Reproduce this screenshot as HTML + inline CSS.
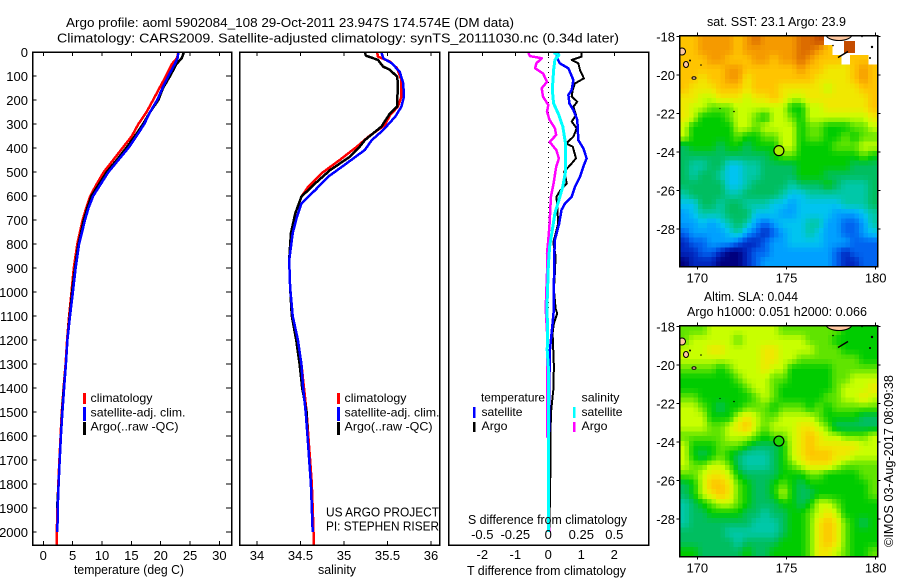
<!DOCTYPE html>
<html lang="en">
<head>
<meta charset="utf-8">
<title>Argo profile chart</title>
<style>
html,body{margin:0;padding:0;background:#fff;}
svg{display:block;}
text{font-family:"Liberation Sans",sans-serif;font-size:13px;fill:#000;}
.lg{font-size:12px;}
</style>
</head>
<body>
<svg id="chart" xmlns="http://www.w3.org/2000/svg" width="900" height="580" viewBox="0 0 900 580">
  <defs>
    <clipPath id="sst-clip"><rect x="680" y="35.5" width="197" height="231"/></clipPath>
    <clipPath id="sla-clip"><rect x="680" y="325.5" width="197" height="231"/></clipPath>
  </defs>
  <rect x="0" y="0" width="900" height="580" fill="#fff"/>
  <text x="66" y="27" textLength="448" lengthAdjust="spacingAndGlyphs">Argo profile: aoml 5902084_108 29-Oct-2011 23.947S 174.574E (DM data)</text>
  <text x="57" y="42.5" textLength="562" lengthAdjust="spacingAndGlyphs">Climatology: CARS2009. Satellite-adjusted climatology: synTS_20111030.nc (0.34d later)</text>

  <g id="heat-layer" shape-rendering="crispEdges"></g>
  <g id="line-layer" shape-rendering="crispEdges"></g>
  <g id="axis-layer"></g>

  <text x="74" y="574" textLength="110" lengthAdjust="spacingAndGlyphs">temperature (deg C)</text>
  <text x="318" y="574" textLength="38" lengthAdjust="spacingAndGlyphs">salinity</text>
  <text x="467" y="575" textLength="159" lengthAdjust="spacingAndGlyphs">T difference from climatology</text>
  <text x="468" y="524" textLength="159" lengthAdjust="spacingAndGlyphs">S difference from climatology</text>

  <g>
    <rect x="83" y="393" width="3" height="11" fill="#f00"/>
    <rect x="83" y="407" width="3" height="14" fill="#00f"/>
    <rect x="83" y="422" width="3" height="13" fill="#000"/>
    <text class="lg" x="90.5" y="402" textLength="62" lengthAdjust="spacingAndGlyphs">climatology</text>
    <text class="lg" x="90.5" y="416.5" textLength="95" lengthAdjust="spacingAndGlyphs">satellite-adj. clim.</text>
    <text class="lg" x="90.5" y="430.5" textLength="88" lengthAdjust="spacingAndGlyphs">Argo(..raw -QC)</text>
  </g>
  <g>
    <rect x="337" y="393" width="3" height="11" fill="#f00"/>
    <rect x="337" y="407" width="3" height="14" fill="#00f"/>
    <rect x="337" y="422" width="3" height="13" fill="#000"/>
    <text class="lg" x="344.5" y="402" textLength="62" lengthAdjust="spacingAndGlyphs">climatology</text>
    <text class="lg" x="344.5" y="416.5" textLength="95" lengthAdjust="spacingAndGlyphs">satellite-adj. clim.</text>
    <text class="lg" x="344.5" y="430.5" textLength="88" lengthAdjust="spacingAndGlyphs">Argo(..raw -QC)</text>
  </g>
  <text x="326" y="516.5" textLength="113" lengthAdjust="spacingAndGlyphs">US ARGO PROJECT</text>
  <text x="326" y="530.5" textLength="113" lengthAdjust="spacingAndGlyphs">PI: STEPHEN RISER</text>

  <g>
    <text class="lg" x="481" y="401.5" textLength="64" lengthAdjust="spacingAndGlyphs">temperature</text>
    <rect x="473" y="407" width="2.5" height="11" fill="#00f"/>
    <text class="lg" x="481.5" y="416" textLength="41" lengthAdjust="spacingAndGlyphs">satellite</text>
    <rect x="473" y="422" width="2.5" height="10" fill="#000"/>
    <text class="lg" x="481.5" y="430" textLength="26" lengthAdjust="spacingAndGlyphs">Argo</text>
    <text class="lg" x="581.5" y="401.5" textLength="38" lengthAdjust="spacingAndGlyphs">salinity</text>
    <rect x="573" y="407" width="2.5" height="11" fill="#0ff"/>
    <text class="lg" x="581.5" y="416" textLength="41" lengthAdjust="spacingAndGlyphs">satellite</text>
    <rect x="573" y="422" width="2.5" height="10" fill="#f0f"/>
    <text class="lg" x="581.5" y="430" textLength="26" lengthAdjust="spacingAndGlyphs">Argo</text>
  </g>

  <text x="707" y="26" textLength="139" lengthAdjust="spacingAndGlyphs">sat. SST: 23.1  Argo: 23.9</text>
  <text x="704" y="301" textLength="94" lengthAdjust="spacingAndGlyphs">Altim. SLA: 0.044</text>
  <text x="687" y="316" textLength="180" lengthAdjust="spacingAndGlyphs">Argo h1000: 0.051 h2000: 0.066</text>
  <text transform="translate(893,547) rotate(-90)" textLength="172" lengthAdjust="spacingAndGlyphs">©IMOS 03-Aug-2017 08:09:38</text>
</svg>

<script>
/* ---------- profile data ---------- */
const tempDepths = [0,25,50,100,150,200,250,300,350,400,450,500,550,600,650,700,800,900,1000,1100,1200,1300,1400,1500,1600,1700,1800,1900,2000,2054];
const climTemp = [23.0,22.8,21.9,20.9,19.8,18.7,17.6,16.2,15.1,13.5,11.9,10.3,9.1,8.0,7.3,6.7,5.8,5.2,4.8,4.4,4.05,3.8,3.45,3.15,2.95,2.75,2.55,2.4,2.3,2.25];
const argoTemp = [23.97,23.6,22.7,21.6,20.4,19.6,18.2,17.0,15.6,14.1,12.5,10.8,9.5,8.2,7.5,6.9,6.0,5.4,4.9,4.5,4.1,3.85,3.5,3.2,3.0,2.8,2.6,2.35];
const satTemp = [23.0,22.9,22.4,21.3,20.3,19.4,18.2,17.2,15.9,14.5,12.8,11.1,9.8,8.5,7.7,7.1,6.1,5.5,5.05,4.55,4.1,3.85,3.55,3.25,3.0,2.8,2.6,2.45,2.4];

const climSalDepths = [0,19,40,68,117,186,228,262,304,353,394,450,506,561,603,672,755,867,978,1100,1200,1300,1400,1500,1600,1700,1800,1900,2000,2054];
const climSal = [35.38,35.39,35.53,35.61,35.66,35.66,35.62,35.53,35.47,35.28,35.15,34.95,34.74,34.59,34.51,34.44,34.40,34.37,34.38,34.41,34.46,34.51,34.54,34.57,34.59,34.61,34.63,34.64,34.65,34.65];
const argoSalDepths = [0,15,33,61,75,103,130,228,255,311,367,394,436,492,547,603,672,755,867,978,1100,1200,1300,1400,1500,1600,1700,1800,1900,2000];
const argoSal = [35.24,35.25,35.39,35.45,35.53,35.61,35.62,35.61,35.53,35.43,35.24,35.18,35.07,34.84,34.67,34.51,34.44,34.39,34.37,34.38,34.40,34.45,34.49,34.52,34.57,34.58,34.60,34.62,34.63,34.64];
const satSalDepths = [0,26,47,82,130,186,228,269,325,367,408,464,519,575,631,686,755,867,978,1100,1200,1300,1400,1500,1600,1700,1800,1900,2000];
const satSal = [35.43,35.45,35.55,35.64,35.68,35.69,35.66,35.59,35.45,35.32,35.24,35.03,34.82,34.67,34.51,34.46,34.41,34.37,34.38,34.41,34.47,34.51,34.53,34.56,34.58,34.60,34.62,34.63,34.64];

const argoTDiffDepths = [3,19,33,47,75,110,131,158,186,207,228,263,290,318,353,381,394,443,464,499,547,575,603,644,714,794,850,919,989,1069,1089,1130,1172,1311,1408,1505,1589,1686,1867,2000];
const argoTDiff = [1.01,1.01,0.71,0.91,0.96,1.08,0.81,0.74,0.71,0.88,0.76,0.84,0.71,0.86,0.76,0.54,0.74,0.84,0.71,0.48,0.56,0.37,0.25,0.27,0.30,0.15,0.22,0.20,0.17,0.22,0.27,0.17,0.13,0.17,0.15,0.08,0.07,0.07,0.05,0.03];
const satTDiffDepths = [3,19,47,68,117,158,179,214,242,283,367,401,443,478,519,561,603,631,658,714,783,853,992,1069,1130,1242,1380,1589,2000];
const satTDiff = [0.30,0.25,0.35,0.61,0.76,0.71,0.61,0.64,0.76,0.88,0.91,1.06,1.16,1.06,0.96,0.81,0.71,0.51,0.40,0.33,0.20,0.18,0.17,0.17,0.13,0.05,0.03,0.02,0.01];
const satSDiffDepths = [3,13,33,75,158,214,263,311,381,436,499,561,617,672,742,811,894,1061,1172,1242,1311,2000];
const satSDiff = [0.04,0.08,0.05,0.04,0.03,0.04,0.08,0.11,0.13,0.13,0.13,0.11,0.08,0.05,0.03,0.01,0,-0.01,-0.005,-0.008,0,0];
const argoSDiffDepths = [3,17,26,47,68,89,124,151,186,221,249,283,318,346,374,408,443,478,547,603,714,783,839,922,1069,1165,1600,1610,1960,2000];
const argoSDiff = [-0.15,-0.14,-0.05,-0.09,-0.10,-0.04,-0.01,-0.05,-0.04,0,-0.01,0.01,0.05,0.06,0.01,0.06,0.08,0.06,0.04,0.02,0.01,0,-0.01,-0.01,-0.02,-0.01,-0.01,0,0,0.01];

/* ---------- axis tick labels ---------- */
const depthTicks = [0,100,200,300,400,500,600,700,800,900,1000,1100,1200,1300,1400,1500,1600,1700,1800,1900,2000];
const tempTicks = [0,5,10,15,20,25,30];
const salTicks = [34,34.5,35,35.5,36];
const tDiffTicks = [-2,-1,0,1,2];
const sDiffTicks = [-0.5,-0.25,0,0.25,0.5];
const lonTicks = [170,175,180];
const latTicks = [-18,-20,-22,-24,-26,-28];

/* ---------- map cells: colour-scale level per cell, -1 = no data ---------- */
const sstLevels = [
[11,11,12,12,12,12,11,12,13,12,12,12,12,13,13,14,-1,-1,-1,-1,-1,-1],
[11,11,12,12,12,12,11,12,12,12,12,12,12,13,13,12,11,-1,-1,-1,-1,-1],
[11,11,11,12,12,11,11,11,12,12,11,12,12,13,12,11,11,11,-1,11,11,-1],
[11,11,11,11,11,12,12,11,11,11,11,11,11,12,11,11,10,10,10,11,12,11],
[11,11,10,11,11,12,12,10,11,11,11,11,11,11,11,10,10,10,10,11,12,11],
[11,10,10,10,11,11,11,10,11,11,11,10,10,10,10,10,9,10,10,10,11,11],
[10,10,9,9,10,10,10,9,10,10,11,10,9,9,10,10,10,10,10,10,10,11],
[10,9,9,8,8,8,9,9,9,9,9,9,7,7,9,9,10,10,10,10,10,11],
[10,9,7,7,7,8,9,9,8,7,9,9,8,7,9,9,9,9,9,9,9,10],
[9,7,7,7,7,7,9,9,8,9,9,9,9,7,8,8,7,7,7,8,8,9],
[9,7,7,7,7,7,8,7,7,8,8,9,9,7,8,8,7,7,8,7,8,8],
[6,7,7,7,6,7,7,6,7,7,7,9,9,7,7,7,7,8,8,8,9,9],
[6,6,6,6,6,6,6,6,6,6,7,8,8,7,7,7,7,7,7,7,8,7],
[6,5,5,6,6,4,4,5,5,6,6,6,6,7,7,7,7,7,7,6,6,6],
[6,5,6,6,5,4,4,5,5,6,6,6,6,7,7,7,6,6,6,6,6,6],
[6,6,6,6,6,4,4,5,6,6,6,6,5,6,6,6,7,6,5,5,5,6],
[5,6,6,6,6,5,5,6,6,6,6,5,4,4,5,5,5,5,5,5,5,6],
[4,4,6,6,5,6,6,5,5,5,4,4,3,4,4,4,4,4,5,5,5,6],
[3,4,5,5,5,6,6,6,4,4,4,3,3,4,4,4,4,3,3,3,4,5],
[3,3,4,3,4,5,6,5,3,2,3,4,4,4,5,5,3,3,2,2,3,5],
[2,3,3,3,3,4,5,3,2,1,2,3,4,4,5,4,3,3,2,2,3,4],
[1,2,2,3,3,3,2,1,1,2,3,3,4,4,4,4,3,3,3,2,2,2],
[1,1,2,2,1,0,0,1,2,2,3,3,3,3,3,3,3,2,1,2,2,2],
[0,1,1,1,0,0,0,1,2,3,3,3,3,3,3,3,3,2,1,1,2,2]
];
const slaLevels = [
[8,8,8,9,9,9,9,9,9,9,9,8,8,8,8,8,8,8,7,7,7,7],
[8,9,9,9,9,9,8,9,9,9,9,9,9,9,8,8,8,7,7,7,7,7],
[9,9,9,10,10,9,9,9,9,10,10,9,9,9,9,8,8,8,7,7,7,7],
[9,9,9,9,9,9,9,9,9,10,10,9,9,8,8,8,8,8,8,8,7,7],
[8,8,8,8,7,8,9,9,9,10,9,9,7,7,7,7,7,8,8,8,8,8],
[7,7,7,7,7,7,8,9,9,9,8,8,7,7,7,7,7,8,8,9,9,9],
[7,7,7,7,7,7,7,8,9,9,8,7,7,7,7,7,7,8,9,9,9,10],
[8,8,7,7,7,7,7,7,8,9,8,7,7,7,7,7,8,8,9,9,10,9],
[9,9,8,7,6,7,7,8,8,8,7,8,8,8,7,8,7,8,8,8,8,8],
[9,9,9,7,7,7,9,10,9,8,8,9,9,9,9,8,7,7,7,7,6,6],
[9,9,9,8,8,9,10,11,9,8,9,9,9,10,10,9,8,6,6,6,6,6],
[8,8,8,8,8,9,9,9,8,7,8,8,9,10,11,10,9,9,8,8,8,9],
[9,7,7,7,8,8,8,7,6,6,6,7,9,10,11,10,10,10,10,10,9,9],
[9,7,6,7,8,7,6,5,5,5,6,7,9,10,11,11,11,10,10,9,9,9],
[9,8,8,9,9,8,6,5,5,5,6,7,8,9,10,10,10,9,8,8,8,8],
[8,8,9,10,10,9,7,6,6,6,6,7,7,7,8,8,7,7,7,7,8,8],
[6,7,9,11,11,10,8,7,6,6,7,8,7,6,7,7,7,7,7,7,7,8],
[6,7,9,10,11,10,8,7,6,6,7,9,7,6,6,7,7,7,7,7,7,8],
[5,6,7,8,9,9,8,7,6,6,6,7,7,6,7,9,9,8,7,7,7,7],
[5,6,6,7,7,7,7,6,6,5,6,6,7,7,8,9,10,9,7,7,7,7],
[5,6,6,6,6,6,6,6,5,5,5,6,7,7,8,10,11,10,8,7,6,7],
[6,6,6,6,6,5,5,5,5,5,5,6,7,7,8,10,11,10,8,7,7,7],
[6,6,6,6,6,6,5,6,6,6,6,7,7,7,8,10,11,10,8,7,7,7],
[7,7,6,6,6,6,6,7,6,6,7,7,7,7,8,10,10,9,8,7,7,8]
];
const levelColors = [[0,0,127],[0,40,192],[0,100,240],[0,160,255],[0,196,240],[0,200,168],[0,190,96],[0,204,0],[96,228,0],[200,255,0],[240,232,0],[255,196,0],[245,154,0],[220,108,0],[196,76,0]];
const argoLon = 174.574;
const argoLat = -23.947;

/* ---------- helpers ---------- */
const SVGNS = 'http://www.w3.org/2000/svg';
const lineLayer = document.getElementById('line-layer');
const axisLayer = document.getElementById('axis-layer');
const heatLayer = document.getElementById('heat-layer');

function depthY(d){ return 52 + d * 0.24; }
function tempX(v){ return 43.3 + 5.87 * v; }
function salX(v){ return 257 + 87 * (v - 34); }
function tDiffX(v){ return 548.3 + 33 * v; }
function sDiffX(v){ return 548.3 + 132 * v; }
function lonX(v){ return 697.3 + 17.84 * (v - 170); }
function latY(v, top){ return top + (-18 - v) * 19.28; }

function addEl(parent, tag, name, attrs){
  const el = document.createElementNS(SVGNS, tag);
  
  
  for (const k in attrs) el.setAttribute(k, attrs[k]);
  parent.appendChild(el);
  return el;
}
function drawProfile(name, depths, values, xFn, color, width){
  const n = Math.min(depths.length, values.length);
  const pts = [];
  for (let i = 0; i < n; i++) pts.push(xFn(values[i]).toFixed(1) + ',' + depthY(depths[i]).toFixed(1));
  addEl(lineLayer, 'polyline', name, {points: pts.join(' '), fill: 'none', stroke: color, 'stroke-width': width, 'stroke-linejoin': 'round'});
}
function tickLine(name, x1, y1, x2, y2){
  addEl(axisLayer, 'line', name, {x1: x1, y1: y1, x2: x2, y2: y2, stroke: '#000', 'stroke-width': 1, 'shape-rendering': 'crispEdges'});
}
function label(name, x, y, txt, anchor){
  const t = addEl(axisLayer, 'text', name, {x: x, y: y, 'text-anchor': anchor || 'middle'});
  t.textContent = txt;
}
function frame(name, x, y, w, h){
  addEl(axisLayer, 'rect', name, {x: x, y: y, width: w, height: h, fill: 'none', stroke: '#000', 'stroke-width': 1.5, 'shape-rendering': 'crispEdges'});
}

/* ---------- profile lines ---------- */
drawProfile('temperature-climatology-line', tempDepths, climTemp, tempX, '#f00', 2.5);
drawProfile('temperature-argo-line', tempDepths, argoTemp, tempX, '#000', 2.5);
drawProfile('temperature-satellite-line', tempDepths, satTemp, tempX, '#00f', 2.5);

drawProfile('salinity-climatology-line', climSalDepths, climSal, salX, '#f00', 2.5);
drawProfile('salinity-argo-line', argoSalDepths, argoSal, salX, '#000', 2.5);
drawProfile('salinity-satellite-line', satSalDepths, satSal, salX, '#00f', 2.5);

addEl(lineLayer, 'line', 'zero-difference-dotted-line', {x1: 548.3, y1: 52, x2: 548.3, y2: 310, stroke: '#000', 'stroke-width': 1, 'stroke-dasharray': '1,4'});
drawProfile('t-difference-argo-line', argoTDiffDepths, argoTDiff, tDiffX, '#000', 2);
drawProfile('t-difference-satellite-line', satTDiffDepths, satTDiff, tDiffX, '#00f', 2.5);
drawProfile('s-difference-argo-line', argoSDiffDepths, argoSDiff, sDiffX, '#f0f', 2.5);
drawProfile('s-difference-satellite-line', satSDiffDepths, satSDiff, sDiffX, '#0ff', 3);

/* ---------- profile axes ---------- */
frame('temperature-panel-frame', 32.5, 52, 199, 493);
frame('salinity-panel-frame', 239.5, 52, 200, 493);
frame('difference-panel-frame', 448.5, 52, 200, 493);

depthTicks.forEach(function(d){
  tickLine('depth-tick-left', 32.5, depthY(d), 36.5, depthY(d));
  tickLine('depth-tick-right', 226, depthY(d), 231.5, depthY(d));
  label('depth-tick-label', 28, depthY(d) + 5, String(d), 'end');
});
tempTicks.forEach(function(v){
  tickLine('temperature-tick-top', tempX(v), 52, tempX(v), 56);
  tickLine('temperature-tick-bottom', tempX(v), 545, tempX(v), 541);
  label('temperature-tick-label', tempX(v), 560, String(v));
});
salTicks.forEach(function(v){
  tickLine('salinity-tick-top', salX(v), 52, salX(v), 56);
  tickLine('salinity-tick-bottom', salX(v), 545, salX(v), 541);
  label('salinity-tick-label', salX(v), 560, String(v));
});
tDiffTicks.forEach(function(v){
  tickLine('t-difference-tick-top', tDiffX(v), 52, tDiffX(v), 56);
  label('t-difference-tick-label', tDiffX(v), 559, String(v));
});
sDiffTicks.forEach(function(v){
  label('s-difference-tick-label', sDiffX(v), 539, String(v));
});

/* ---------- maps ---------- */
/* each data cell is shaded with sub x sub blocks, blended toward neighbouring cells */
function sampleLevel(grid, fr, fc){
  const r0 = Math.floor(fr), c0 = Math.floor(fc);
  const tr = fr - r0, tc = fc - c0;
  let sum = 0, wt = 0;
  [[r0, c0, (1 - tr) * (1 - tc)], [r0, c0 + 1, (1 - tr) * tc], [r0 + 1, c0, tr * (1 - tc)], [r0 + 1, c0 + 1, tr * tc]].forEach(function(p){
    const row = grid[Math.max(0, Math.min(grid.length - 1, p[0]))];
    const v = row[Math.max(0, Math.min(row.length - 1, p[1]))];
    if (v >= 0) { sum += v * p[2]; wt += p[2]; }
  });
  return wt > 0 ? sum / wt : -1;
}
function levelColor(v){
  const lo = Math.max(0, Math.min(levelColors.length - 1, Math.floor(v)));
  const hi = Math.min(levelColors.length - 1, lo + 1);
  const t = Math.max(0, Math.min(1, v - lo));
  const a = levelColors[lo], b = levelColors[hi];
  return 'rgb(' + Math.round(a[0] + (b[0] - a[0]) * t) + ',' + Math.round(a[1] + (b[1] - a[1]) * t) + ',' + Math.round(a[2] + (b[2] - a[2]) * t) + ')';
}
function drawMap(name, grid, top, clipId){
  const left = 680, cw = 197 / 22, ch = 231 / 24, sub = 2;
  grid.forEach(function(row, r){
    row.forEach(function(level, c){
      if (level < 0) return;
      for (let i = 0; i < sub; i++) {
        for (let j = 0; j < sub; j++) {
          const fr = r + (i + 0.5) / sub - 0.5, fc = c + (j + 0.5) / sub - 0.5;
          const v = sampleLevel(grid, fr, fc);
          addEl(heatLayer, 'rect', name + '-cell', {
            x: (left + (c + j / sub) * cw).toFixed(2), y: (top + (r + i / sub) * ch).toFixed(2),
            width: (cw / sub + 0.5).toFixed(2), height: (ch / sub + 0.5).toFixed(2),
            fill: levelColor(v)
          });
        }
      }
    });
  });
  /* coastlines and islands */
  const g = addEl(axisLayer, 'g', name + '-land', {'clip-path': 'url(#' + clipId + ')'});
  addEl(g, 'ellipse', 'island', {cx: 839, cy: top - 1, rx: 13, ry: 6, fill: '#ffc8a0', stroke: '#000', 'stroke-width': 1});
  addEl(g, 'ellipse', 'island', {cx: 682, cy: top + 16, rx: 3.5, ry: 3.5, fill: '#ffc8a0', stroke: '#000', 'stroke-width': 1});
  addEl(g, 'ellipse', 'island', {cx: 686, cy: top + 29, rx: 2.5, ry: 3, fill: '#ffc8a0', stroke: '#000', 'stroke-width': 1});
  addEl(g, 'ellipse', 'island', {cx: 694, cy: top + 42.5, rx: 2, ry: 1.3, fill: '#ffc8a0', stroke: '#000', 'stroke-width': 1});
  addEl(g, 'circle', 'island', {cx: 690, cy: top + 25, r: 1, fill: '#000'});
  addEl(g, 'circle', 'island', {cx: 701, cy: top + 29.5, r: 0.8, fill: '#000'});
  addEl(g, 'circle', 'island', {cx: 720, cy: top + 73, r: 0.6, fill: '#000'});
  addEl(g, 'circle', 'island', {cx: 734, cy: top + 76, r: 0.8, fill: '#000'});
  addEl(g, 'line', 'island', {x1: 838, y1: top + 22, x2: 848, y2: top + 16, stroke: '#000', 'stroke-width': 1.5});
  addEl(g, 'circle', 'island', {cx: 872, cy: top + 11.5, r: 1.2, fill: '#000'});
  addEl(g, 'circle', 'island', {cx: 870, cy: top + 22.5, r: 1, fill: '#000'});
  addEl(g, 'circle', 'island', {cx: 833, cy: top + 10, r: 0.8, fill: '#000'});
  addEl(g, 'circle', 'island', {cx: 862, cy: top + 1, r: 0.8, fill: '#000'});
}
drawMap('sst-map', sstLevels, 35.5, 'sst-clip');
drawMap('sla-map', slaLevels, 325.5, 'sla-clip');
addEl(heatLayer, 'rect', 'sst-warm-patch', {x: 844, y: 41, width: 11, height: 12, fill: '#c44c00'});
addEl(axisLayer, 'circle', 'sst-argo-marker', {cx: lonX(argoLon), cy: latY(argoLat, 36), r: 5, fill: '#a8f000', stroke: '#000', 'stroke-width': 1.2});
addEl(axisLayer, 'circle', 'sla-argo-marker', {cx: lonX(argoLon), cy: latY(argoLat, 326.4), r: 5, fill: '#20d800', stroke: '#000', 'stroke-width': 1.2});

function mapAxes(name, top, h, labelBaseline){
  frame(name + '-frame', 679.5, top, 198, h);
  lonTicks.forEach(function(v){
    tickLine(name + '-lon-tick-top', lonX(v), top - 3, lonX(v), top);
    tickLine(name + '-lon-tick-bottom', lonX(v), top + h, lonX(v), top + h + 3);
    label(name + '-lon-label', lonX(v), labelBaseline, String(v));
  });
  latTicks.forEach(function(v){
    const y = latY(v, top + 0.8);
    tickLine(name + '-lat-tick-left', 676.5, y, 679.5, y);
    tickLine(name + '-lat-tick-right', 877.5, y, 880.5, y);
    label(name + '-lat-label', 675, y + 5, String(v), 'end');
  });
}
mapAxes('sst-map', 35.5, 231, 282.5);
mapAxes('sla-map', 325.5, 231, 572.5);
</script>
</body>
</html>
